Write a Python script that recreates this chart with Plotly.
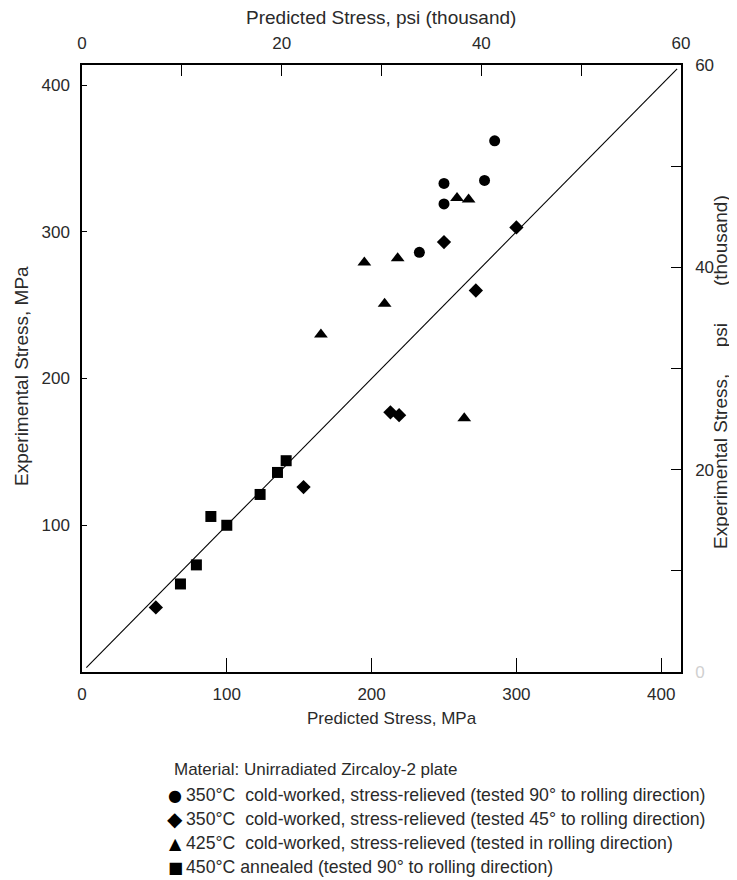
import plotly.graph_objects as go

# ---- data (MPa) ----
circle_pred = [285, 250, 278, 250, 233]
circle_exp = [362, 333, 335, 319, 286]

diamond_pred = [250, 300, 272, 213, 219, 153, 51]
diamond_exp = [293, 303, 260, 177, 175, 126, 44]

triangle_pred = [259, 267, 218, 209, 165, 195, 264]
triangle_exp = [323, 322, 282, 251, 230, 279, 173]

square_pred = [68, 79, 89, 100, 123, 135, 141]
square_exp = [60, 73, 106, 100, 121, 136, 144]

line_vals = [3, 411]

mpa_ticks = [0, 100, 200, 300, 400]
ksi_ticks = [0, 10, 20, 30, 40, 50, 60]
ksi_text_top = ["0", "", "20", "", "40", "", "60"]
ksi_text_right = ["<span style='color:#d0d0d0'>0</span>", "", "20", "", "40", "", "60"]

legend_title = "Material: Unirradiated Zircaloy-2 plate"
legend_items = [
    ("\u25CF", 16, "350\u00b0C  cold-worked, stress-relieved (tested 90\u00b0 to rolling direction)"),
    ("\u25C6", 20, "350\u00b0C  cold-worked, stress-relieved (tested 45\u00b0 to rolling direction)"),
    ("\u25B2", 16, "425\u00b0C  cold-worked, stress-relieved (tested in rolling direction)"),
    ("\u25A0", 16, "450\u00b0C annealed (tested 90\u00b0 to rolling direction)"),
]

KSI = 6.894757
MAXK = 60
MAXM = MAXK * KSI

OFF = 8  # page body margin
W, H = 729, 872
L, T = 82 - OFF, 65 - OFF
PW, PH = 599, 607
R = W - L - PW
B = H - T - PH

def px(x):
    return (x - OFF - L) / PW

def py(y):
    return (T + PH - (y - OFF)) / PH

FONT = "Liberation Sans, Arial, sans-serif"
TXT = "#2a2a2a"
NB = "\u00a0"

fig = go.Figure()

fig.add_trace(go.Scatter(x=line_vals, y=line_vals, mode="lines",
                         line=dict(color="black", width=1.1), showlegend=False,
                         hoverinfo="skip"))
fig.add_trace(go.Scatter(x=circle_pred, y=circle_exp, mode="markers",
                         marker=dict(symbol="circle", size=11, color="black"),
                         showlegend=False))
fig.add_trace(go.Scatter(x=diamond_pred, y=diamond_exp, mode="markers",
                         marker=dict(symbol="diamond", size=11, color="black"),
                         showlegend=False))
fig.add_trace(go.Scatter(x=triangle_pred, y=triangle_exp, mode="markers",
                         marker=dict(symbol="triangle-up", size=12, color="black"),
                         showlegend=False))
fig.add_trace(go.Scatter(x=square_pred, y=square_exp, mode="markers",
                         marker=dict(symbol="square", size=11, color="black"),
                         showlegend=False))
fig.add_trace(go.Scatter(x=[None], y=[None], xaxis="x2", yaxis="y2", showlegend=False))

axis_common = dict(showgrid=False, zeroline=False, tickfont=dict(family=FONT, size=17, color=TXT))

fig.update_layout(
    width=W, height=H,
    margin=dict(l=L, r=R, t=T, b=B, autoexpand=False),
    plot_bgcolor="white", paper_bgcolor="white",
    showlegend=False,
    xaxis=dict(range=[0, MAXM], tickvals=mpa_ticks, ticks="inside", ticklen=14,
               tickcolor="black", tickwidth=1.2, showline=True, linecolor="black",
               linewidth=1.5, ticklabelstandoff=6, **axis_common),
    yaxis=dict(range=[0, MAXM], tickvals=mpa_ticks[1:], ticks="inside", ticklen=5,
               tickcolor="black", tickwidth=1.2, showline=True, linecolor="black",
               linewidth=1.5, ticklabelstandoff=7, **axis_common),
    xaxis2=dict(range=[0, MAXK], overlaying="x", side="top", anchor="y",
                tickvals=ksi_ticks, ticktext=ksi_text_top, ticks="inside", ticklen=11,
                tickcolor="black", tickwidth=1.2, showline=True, linecolor="black",
                linewidth=1.5, ticklabelstandoff=7, **axis_common),
    yaxis2=dict(range=[0, MAXK], overlaying="y", side="right", anchor="x",
                tickvals=ksi_ticks, ticktext=ksi_text_right, ticks="inside", ticklen=10,
                tickcolor="black", tickwidth=1.2, showline=True, linecolor="black",
                linewidth=1.5, ticklabelstandoff=9, **axis_common),
)

ann = []
ann.append(dict(text="Predicted Stress, MPa", x=px(392), y=py(718), xref="paper", yref="paper",
                showarrow=False, xanchor="center", yanchor="middle",
                font=dict(family=FONT, size=17, color=TXT)))
ann.append(dict(text="Predicted Stress, psi (thousand)", x=px(381), y=py(18), xref="paper", yref="paper",
                showarrow=False, xanchor="center", yanchor="middle",
                font=dict(family=FONT, size=19, color=TXT)))
ann.append(dict(text="Experimental Stress, MPa", x=px(21), y=py(376), xref="paper", yref="paper",
                showarrow=False, xanchor="center", yanchor="middle", textangle=-90,
                font=dict(family=FONT, size=19, color=TXT)))
ann.append(dict(text="Experimental Stress," + NB * 5 + "psi" + NB * 7 + "(thousand)",
                x=px(720), y=py(372), xref="paper", yref="paper",
                showarrow=False, xanchor="center", yanchor="middle", textangle=-90,
                font=dict(family=FONT, size=19, color=TXT)))

ann.append(dict(text=legend_title, x=px(172), y=py(770), xref="paper", yref="paper",
                showarrow=False, xanchor="left", yanchor="middle",
                font=dict(family=FONT, size=17, color=TXT)))
for i, (sym, ssz, label) in enumerate(legend_items):
    yy = 795 + 24 * i
    ann.append(dict(text=sym, x=px(175), y=py(yy), xref="paper", yref="paper",
                    showarrow=False, xanchor="center", yanchor="middle",
                    font=dict(family="DejaVu Sans", size=ssz, color="black")))
    ann.append(dict(text=label, x=px(184), y=py(yy), xref="paper", yref="paper",
                    showarrow=False, xanchor="left", yanchor="middle",
                    font=dict(family=FONT, size=17.7, color=TXT)))

fig.update_layout(annotations=ann)

fig.write_html("out.html")
